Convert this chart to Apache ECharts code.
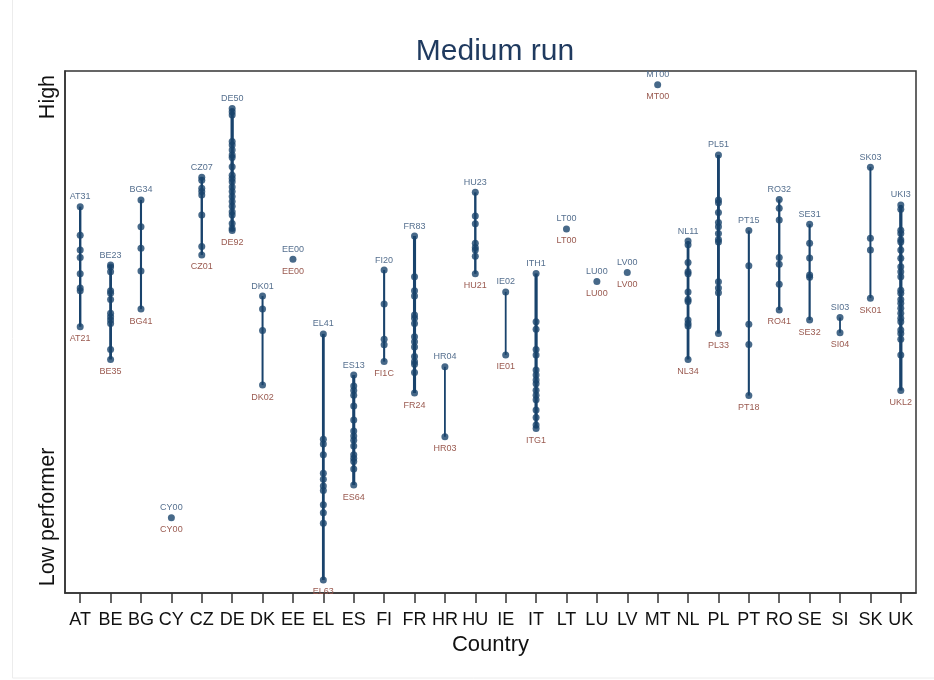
<!DOCTYPE html>
<html>
<head>
<meta charset="utf-8">
<script src="https://cdn.jsdelivr.net/npm/echarts@6/dist/echarts.min.js"></script>
<style>
html,body{margin:0;padding:0;background:#fff;}
#chart{width:934px;height:680px;}
</style>
</head>
<body>
<div id="chart"></div>
<script>
// Countries (x categories)
const categories = ['AT','BE','BG','CY','CZ','DE','DK','EE','EL','ES','FI','FR','HR','HU','IE','IT','LT','LU','LV','MT','NL','PL','PT','RO','SE','SI','SK','UK'];

// Regional performance scores per country (0 = Low performer, 100 = High)
const AT = [73.9, 67.1, 63.6, 61.8, 57.9, 54.5, 53.9, 45.3];
const BE = [60.0, 59.5, 58.4, 53.9, 53.3, 51.8, 48.5, 47.7, 46.9, 46.1, 39.9, 37.5];
const BG = [75.5, 69.1, 64.0, 58.6, 49.5];
const CY = [-0.2];
const CZ = [80.9, 80.2, 78.3, 77.5, 76.7, 71.9, 64.4, 62.4];
const DE = [97.3, 96.5, 95.7, 89.4, 88.6, 87.4, 86.2, 85.6, 83.4, 81.4, 80.6, 79.8, 78.6, 77.5, 76.3, 75.1, 74.0, 72.7, 71.9, 69.9, 68.7, 68.2];
const DK = [52.6, 49.5, 44.4, 31.4];
const EE = [61.4];
const EL = [43.6, 18.5, 17.4, 14.8, 10.4, 9.0, 7.4, 6.3, 2.9, 1.0, -1.5, -15.0];
const ES = [33.8, 31.2, 30.1, 29.0, 26.4, 23.1, 20.5, 19.3, 18.3, 16.9, 14.8, 14.0, 13.2, 11.4, 7.6];
const FI = [58.8, 50.7, 42.3, 41.0, 37.0];
const FR = [66.9, 57.2, 53.9, 52.6, 48.1, 47.3, 46.1, 42.9, 41.7, 40.5, 38.2, 37.0, 36.4, 34.4, 29.5];
const HR = [35.8, 19.1];
const HU = [77.3, 71.7, 69.8, 65.2, 64.2, 63.6, 62.1, 57.9];
const IE = [53.6, 38.6];
const IT = [58.0, 46.5, 44.7, 39.9, 38.6, 35.0, 33.8, 32.6, 31.7, 30.2, 29.0, 27.9, 25.5, 23.7, 21.9, 21.1];
const LT = [68.6];
const LU = [56.1];
const LV = [58.2];
const MT = [102.9];
const NL = [65.7, 64.8, 60.6, 58.4, 57.9, 53.6, 51.8, 51.3, 46.9, 46.1, 45.5, 37.5];
const PL = [86.2, 75.5, 74.8, 72.5, 70.1, 69.1, 67.5, 66.1, 65.5, 56.0, 54.5, 53.4, 43.7];
const PT = [68.2, 59.8, 45.9, 41.1, 28.9];
const RO = [75.6, 73.5, 70.7, 61.8, 60.2, 55.4, 49.3];
const SE = [69.7, 65.2, 61.7, 57.6, 57.1, 46.9];
const SI = [47.5, 43.9];
const SK = [83.3, 66.4, 63.6, 52.1];
const UK = [74.3, 73.3, 68.3, 67.5, 66.0, 65.5, 63.6, 61.6, 59.6, 58.4, 57.2, 54.0, 53.3, 51.8, 50.9, 49.7, 48.5, 47.3, 46.5, 44.5, 43.7, 42.3, 38.6, 30.1];

const countryValues = [AT, BE, BG, CY, CZ, DE, DK, EE, EL, ES, FI, FR, HR, HU, IE, IT, LT, LU, LV, MT, NL, PL, PT, RO, SE, SI, SK, UK];

// Best / worst region codes per country
const topCodes = ['AT31','BE23','BG34','CY00','CZ07','DE50','DK01','EE00','EL41','ES13','FI20','FR83','HR04','HU23','IE02','ITH1','LT00','LU00','LV00','MT00','NL11','PL51','PT15','RO32','SE31','SI03','SK03','UKI3'];
const bottomCodes = ['AT21','BE35','BG41','CY00','CZ01','DE92','DK02','EE00','EL63','ES64','FI1C','FR24','HR03','HU21','IE01','ITG1','LT00','LU00','LV00','MT00','NL34','PL33','PT18','RO41','SE32','SI04','SK01','UKL2'];

// Y axis tick labels
const yTickValues = [0, 100];
const yTickLabels = ['Low performer', 'High'];

const NAVY = '#19436c';
const TOP_COL = '#56708f';
const BOT_COL = '#9a5a50';
const SANS = '"Liberation Sans",Arial,sans-serif';

const rangeData = categories.map((c, i) => [i, Math.min(...countryValues[i]), Math.max(...countryValues[i]), countryValues[i].length]);
const pointData = [];
countryValues.forEach((vals, i) => vals.forEach(v => pointData.push([i, v])));

const chart = echarts.init(document.getElementById('chart'), null, {renderer: 'canvas'});
chart.setOption({
  animation: false,
  backgroundColor: '#fff',
  graphic: [{
    type: 'rect', silent: true, z: -10,
    shape: {x: 12.5, y: -2, width: 930, height: 680},
    style: {fill: 'none', stroke: '#ececec', lineWidth: 1}
  }],
  title: {
    text: 'Medium run',
    left: 490, top: 32, textAlign: 'center',
    textStyle: {fontSize: 30, fontWeight: 'normal', color: '#1f3a5f', fontFamily: SANS}
  },
  grid: {left: 65, right: 18, top: 71, bottom: 87, show: true, borderColor: '#333', borderWidth: 1.5, containLabel: false},
  xAxis: {
    type: 'category', data: categories, boundaryGap: true,
    axisLine: {show: true, onZero: false, lineStyle: {color: '#333', width: 1.5}},
    axisTick: {show: true, inside: false, alignWithLabel: true, interval: 0, length: 10, lineStyle: {color: '#333', width: 1.5}},
    axisLabel: {fontSize: 18, fontFamily: SANS, color: '#111', margin: 18, interval: 0},
    name: 'Country', nameLocation: 'middle', nameGap: 40,
    nameTextStyle: {fontSize: 22, fontFamily: SANS, color: '#111'}
  },
  yAxis: {
    type: 'value', min: -18.1, max: 106.2,
    splitLine: {show: false},
    axisLine: {show: true, lineStyle: {color: '#333', width: 1.5}},
    axisTick: {show: false},
    axisLabel: {
      customValues: yTickValues, rotate: 90, fontSize: 21.5, fontFamily: SANS, color: '#111', margin: 6,
      formatter: v => { const k = yTickValues.indexOf(v); return k >= 0 ? yTickLabels[k] : ''; }
    }
  },
  series: [
    {
      type: 'custom',
      data: rangeData,
      renderItem: (params, api) => {
        const i = api.value(0);
        const lo = api.coord([i, api.value(1)]);
        const hi = api.coord([i, api.value(2)]);
        const n = api.value(3);
        const w = Math.min(1.6 + n * 0.1, 3.3);
        const children = [];
        if (n > 1) {
          children.push({type: 'line', shape: {x1: hi[0], y1: hi[1], x2: lo[0], y2: lo[1]}, style: {stroke: NAVY, lineWidth: w}});
        }
        children.push({type: 'text', style: {text: topCodes[params.dataIndex], x: hi[0], y: hi[1] - 10, align: 'center', verticalAlign: 'middle', fill: TOP_COL, fontSize: 9, fontFamily: SANS}});
        children.push({type: 'text', style: {text: bottomCodes[params.dataIndex], x: lo[0], y: lo[1] + 12, align: 'center', verticalAlign: 'middle', fill: BOT_COL, fontSize: 9, fontFamily: SANS}});
        return {type: 'group', children};
      },
      z: 2
    },
    {
      type: 'scatter',
      data: pointData,
      symbol: 'circle', symbolSize: 7,
      itemStyle: {color: NAVY},
      z: 3
    }
  ]
});
</script>
</body>
</html>
